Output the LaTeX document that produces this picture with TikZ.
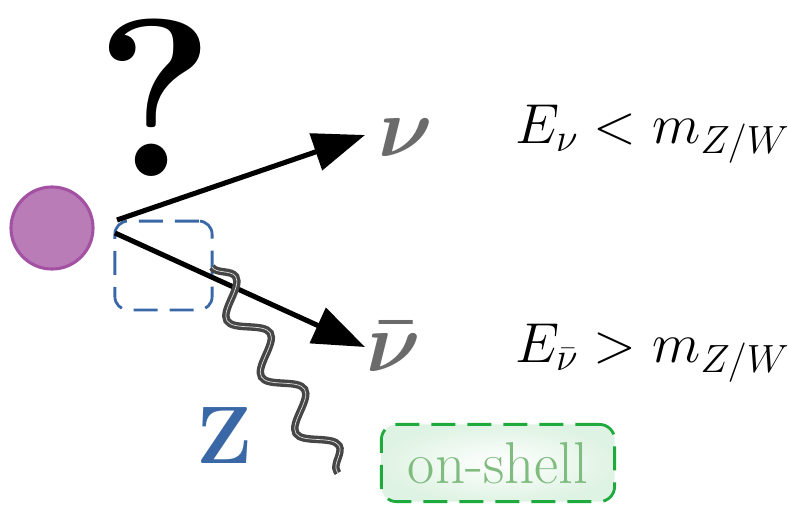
\RequirePackage{fix-cm}
\documentclass[tikz,border=0pt]{standalone}
\usepackage{amsmath}
\usetikzlibrary{arrows.meta,decorations.pathmorphing,positioning}
\definecolor{blobpurple}{HTML}{BA7CB6}
\definecolor{blobedge}{HTML}{A352A3}
\definecolor{zblue}{HTML}{3A68A6}
\definecolor{shellgreen}{HTML}{1EAA3C}
\definecolor{shelltext}{HTML}{80BB80}

\begin{document}
\begin{tikzpicture}[
    x=0.025cm, y=-0.025cm,
    blob/.style={circle, draw=blobedge, fill=blobpurple, line width=2.2pt,
                 minimum size=2.05cm, inner sep=0pt},
    leg/.style={-{Triangle[length=1.3cm, width=0.95cm]}, line width=3.6pt},
    nulabel/.style={anchor=base, inner sep=0pt, text=black!58,
                    font=\fontsize{60}{60}\selectfont},
    ineq/.style={anchor=base west, inner sep=0pt, font=\fontsize{40}{40}\selectfont},
    vertexbox/.style={draw=zblue, dashed, dash pattern=on 0.6cm off 0.3cm,
                      line width=2pt, rounded corners=0.33cm,
                      minimum width=2.43cm, minimum height=2.22cm},
    boson/.style={decorate, decoration={snake, segment length=1.65cm, amplitude=0.38cm},
                  draw=gray!55!black, line width=2.4pt, double=gray!25, double distance=0.5pt},
    shellbox/.style={draw=shellgreen, dashed, dash pattern=on 0.6cm off 0.3cm,
                     line width=2pt, rounded corners=0.38cm,
                     inner color=white, outer color=shellgreen!14,
                     minimum width=5.83cm, minimum height=1.93cm,
                     text=shelltext, font=\fontsize{42}{42}\selectfont},
]
\useasboundingbox (0,0) rectangle (788,508);

% particle and question
\node[blob] (blob) at (52,228) {};
\node[font=\fontsize{160}{160}\selectfont\bfseries, inner sep=0pt] (qmark) at (155,98) {?};

% vertex
\coordinate (vtop) at (117,220);
\coordinate (vbot) at (115,233);
\node[vertexbox] (vbox) at (163.5,265.5) {};

% outgoing neutrinos
\coordinate (nutip) at (365,135);
\coordinate (nubartip) at (365,347);
\node[nulabel] (nu) at (406,156) {$\boldsymbol{\nu}$};
\node[nulabel] (nubar) at (394,371) {$\boldsymbol{\bar\nu}$};
\draw[leg] (vtop) -- (nutip);
\draw[leg] (vbot) -- (nubartip);

% energy conditions
\node[ineq] (ineqnu) at (515,143) {$E_\nu < m_{Z/W}$};
\node[ineq] (ineqnubar) at (515,362) {$E_{\bar\nu} > m_{Z/W}$};

% Z boson
\coordinate (zstart) at (212,267);
\coordinate (zend) at (338,473);
\draw[boson] (zstart) -- (zend);
\node[text=zblue, font=\fontsize{58}{58}\selectfont\bfseries] (zlabel) at (225,436) {Z};

% on-shell tag
\node[shellbox] (onshell) at (498,463) {on-shell};

\end{tikzpicture}
\end{document}
